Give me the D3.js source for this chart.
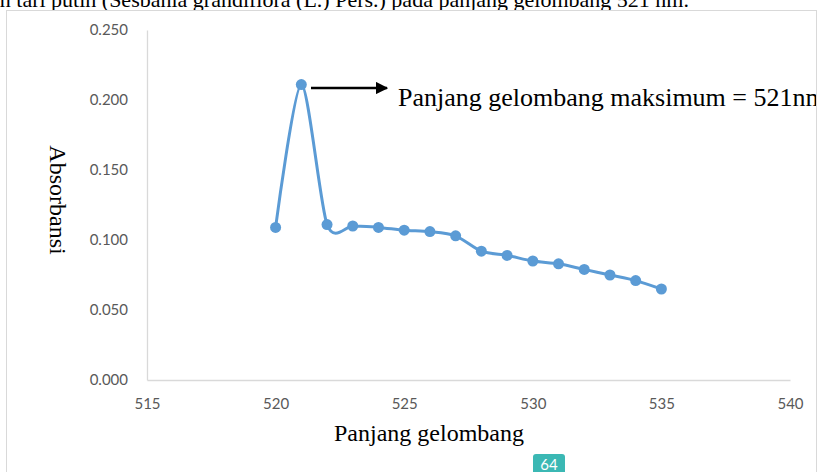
<!DOCTYPE html>
<html><head><meta charset="utf-8">
<script src="https://cdn.jsdelivr.net/npm/d3@7"></script>
<style>html,body{margin:0;padding:0;background:#fff;overflow:hidden}</style>
</head><body>
<script>
const wavelengths = [520,521,522,523,524,525,526,527,528,529,530,531,532,533,534,535];
const absorbance = [0.109,0.211,0.111,0.110,0.109,0.107,0.106,0.103,0.092,0.089,0.085,0.083,0.079,0.075,0.071,0.065];
const xTicks = [515,520,525,530,535,540];
const yTicks = [0,0.05,0.1,0.15,0.2,0.25];

const W=823,H=472;
const svg=d3.select("body").append("svg").attr("width",W).attr("height",H);

// caption text cut at top
svg.append("text").attr("x",-10).attr("y",7)
  .attr("font-family","Liberation Serif").attr("font-size",22).attr("fill","#000")
  .text("an tari putih (Sesbania grandiflora (L.) Pers.) pada panjang gelombang 521 nm.");

// chart frame
svg.append("rect").attr("x",6.5).attr("y",10.5).attr("width",810).attr("height",480)
  .attr("fill","#fff").attr("stroke","#d9d9d9").attr("stroke-width",1);

svg.append("defs").append("clipPath").attr("id","frame")
  .append("rect").attr("x",7).attr("y",11).attr("width",809).attr("height",470);
const g=svg.append("g").attr("clip-path","url(#frame)");

const x=d3.scaleLinear().domain([515,540]).range([147,790]);
const y=d3.scaleLinear().domain([0,0.25]).range([380,30]);

const xAxis=g.append("g").attr("transform","translate(0,380)")
  .call(d3.axisBottom(x).tickValues(xTicks).tickSize(0).tickPadding(18).tickFormat(d3.format("d")));
const yAxis=g.append("g").attr("transform","translate(147,0)")
  .call(d3.axisLeft(y).tickValues(yTicks).tickSize(0).tickPadding(19).tickFormat(d3.format(".3f")));
[xAxis,yAxis].forEach(a=>{
  a.select(".domain").attr("stroke","#d9d9d9").attr("stroke-width",1.3);
  a.selectAll("text").attr("font-family","Lato, 'Open Sans', sans-serif").attr("font-size",15).attr("fill","#595959");
});

const line=d3.line().x((d,i)=>x(wavelengths[i])).y(d=>y(d)).curve(d3.curveCardinal.tension(0.2));
g.append("path").datum(absorbance).attr("d",line).attr("fill","none")
  .attr("stroke","#5b9bd5").attr("stroke-width",3);
g.selectAll("circle.pt").data(absorbance).join("circle").attr("class","pt")
  .attr("cx",(d,i)=>x(wavelengths[i])).attr("cy",d=>y(d)).attr("r",5.5).attr("fill","#5b9bd5");

// arrow annotation
svg.select("defs").append("marker").attr("id","ah").attr("viewBox","0 0 10 10")
  .attr("refX",9).attr("refY",5).attr("markerWidth",5).attr("markerHeight",5).attr("orient","auto")
  .append("path").attr("d","M0,0L10,5L0,10z").attr("fill","#000");
g.append("line").attr("x1",311).attr("y1",88).attr("x2",387).attr("y2",88)
  .attr("stroke","#000").attr("stroke-width",2.5).attr("marker-end","url(#ah)");
g.append("text").attr("x",398).attr("y",106).attr("font-family","Liberation Serif")
  .attr("font-size",26).attr("fill","#000").text("Panjang gelombang maksimum = 521nm");

// axis titles
g.append("text").attr("x",429).attr("y",441).attr("text-anchor","middle")
  .attr("font-family","Liberation Serif").attr("font-size",24).attr("fill","#000").text("Panjang gelombang");
g.append("text").attr("transform","translate(50,200) rotate(90)").attr("text-anchor","middle")
  .attr("font-family","Liberation Serif").attr("font-size",24).attr("fill","#000").text("Absorbansi");

// page badge
svg.append("rect").attr("x",533).attr("y",454).attr("width",32).attr("height",24).attr("rx",3).attr("fill","#3bb8b4");
svg.append("text").attr("x",549).attr("y",470).attr("text-anchor","middle")
  .attr("font-family","Lato, sans-serif").attr("font-size",15).attr("fill","#fff").text("64");
</script>
</body></html>
